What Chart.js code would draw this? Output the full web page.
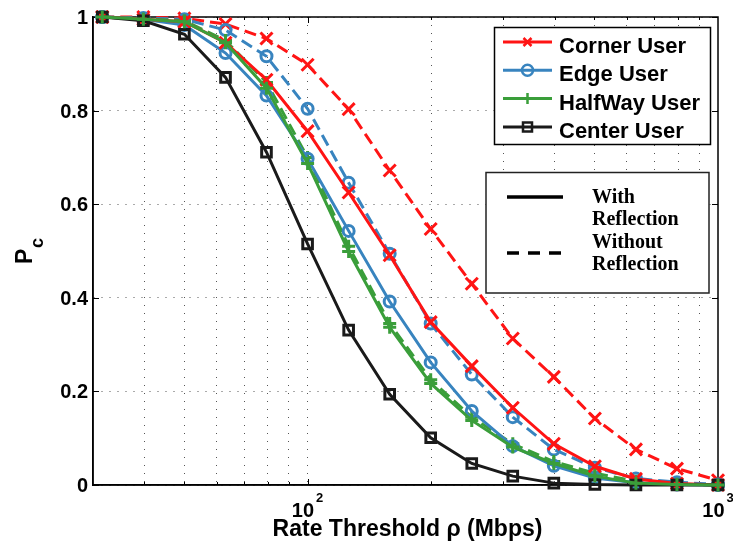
<!DOCTYPE html>
<html>
<head>
<meta charset="utf-8">
<title>Coverage probability vs rate threshold</title>
<script src="https://cdn.jsdelivr.net/npm/chart.js@4.4.0/dist/chart.umd.min.js"></script>
<style>
  body { margin: 0; background: #fff; }
  canvas { display: block; }
</style>
</head>
<body>
<canvas id="pc" width="733" height="550"></canvas>
<script>
// rate threshold samples in Mbps (10^1.5 ... 10^3, 0.1 decade steps)
const rates = [31.6, 39.8, 50.1, 63.1, 79.4, 100, 125.9, 158.5, 199.5, 251.2, 316.2, 398.1, 501.2, 631.0, 794.3, 1000];

// coverage probability P_c per user position
const cornerWith    = [1, 0.995, 0.99, 0.945, 0.866, 0.756, 0.625, 0.491, 0.348, 0.254, 0.165, 0.088, 0.04, 0.013, 0.003, 0];
const cornerWithout = [1, 1, 0.997, 0.985, 0.954, 0.898, 0.803, 0.672, 0.547, 0.43, 0.313, 0.231, 0.142, 0.076, 0.035, 0.01];
const edgeWith      = [1, 0.995, 0.983, 0.923, 0.832, 0.697, 0.543, 0.392, 0.262, 0.158, 0.083, 0.041, 0.015, 0.005, 0.001, 0];
const edgeWithout   = [1, 0.998, 0.995, 0.972, 0.916, 0.804, 0.646, 0.494, 0.345, 0.236, 0.145, 0.076, 0.037, 0.014, 0.006, 0.001];
const halfWith      = [1, 0.995, 0.99, 0.945, 0.848, 0.687, 0.499, 0.337, 0.217, 0.138, 0.081, 0.046, 0.019, 0.004, 0.001, 0];
const halfWithout   = [1, 0.996, 0.992, 0.95, 0.86, 0.7, 0.51, 0.345, 0.225, 0.145, 0.088, 0.05, 0.025, 0.008, 0.002, 0];
const centerWith    = [1, 0.992, 0.963, 0.871, 0.711, 0.515, 0.331, 0.194, 0.101, 0.046, 0.019, 0.004, 0.001, 0, 0, 0];

const yTicks = [0, 0.2, 0.4, 0.6, 0.8, 1];
const xGrid = [40, 50, 60, 70, 80, 90, 100, 200, 300, 400, 500, 600, 700, 800, 900];
const xMajor = [100, 1000];

const RED = '#ff1414', BLUE = '#3884bf', GREEN = '#3a9e3a', BLACK = '#1a1a1a';
const SANS = '"Liberation Sans", Arial, sans-serif';
const SERIF = '"Liberation Serif", "Times New Roman", serif';

const users = [
  { name: 'Corner User', color: RED, marker: 'crossRot', r: 4 },
  { name: 'Edge User', color: BLUE, marker: 'circle', r: 5.5 },
  { name: 'HalfWay User', color: GREEN, marker: 'cross', r: 5.5 },
  { name: 'Center User', color: BLACK, marker: 'rect', r: 4.5 }
];

function series(label, data, color, marker, radius, dashed) {
  return {
    label: label,
    data: rates.map((r, i) => ({ x: r, y: data[i] })),
    borderColor: color,
    borderWidth: 3,
    borderDash: dashed ? [12, 6] : [],
    pointStyle: marker,
    pointRadius: radius,
    pointBorderColor: color,
    pointBackgroundColor: 'rgba(0,0,0,0)',
    pointBorderWidth: 3,
    tension: 0,
    fill: false,
    clip: false
  };
}

// first dataset ends up on top
const datasets = [
  series('HalfWay User', halfWith, GREEN, 'cross', 6.5, false),
  series('Center User', centerWith, BLACK, 'rect', 6.8, false),
  series('Corner User', cornerWith, RED, 'crossRot', 8.5, false),
  series('Edge User', edgeWith, BLUE, 'circle', 5.5, false),
  series('HalfWay User (no refl.)', halfWithout, GREEN, 'cross', 6.5, true),
  series('Edge User (no refl.)', edgeWithout, BLUE, 'circle', 5.5, true),
  series('Corner User (no refl.)', cornerWithout, RED, 'crossRot', 8.5, true)
];

function drawMarker(ctx, style, x, y, r) {
  ctx.beginPath();
  if (style === 'circle') {
    ctx.arc(x, y, r, 0, 2 * Math.PI);
  } else if (style === 'rect') {
    ctx.rect(x - r, y - r, 2 * r, 2 * r);
  } else if (style === 'cross') {
    ctx.moveTo(x - r, y); ctx.lineTo(x + r, y);
    ctx.moveTo(x, y - r); ctx.lineTo(x, y + r);
  } else {
    ctx.moveTo(x - r, y - r); ctx.lineTo(x + r, y + r);
    ctx.moveTo(x - r, y + r); ctx.lineTo(x + r, y - r);
  }
  ctx.stroke();
}

// axes box, inward ticks, tick labels and titles
const axesDecor = {
  id: 'axesDecor',
  beforeDatasetsDraw(chart) {
    const { ctx, chartArea: a, scales: { x, y } } = chart;
    ctx.save();
    ctx.strokeStyle = '#000';
    ctx.lineWidth = 1.5;
    ctx.strokeRect(a.left, a.top, a.right - a.left, a.bottom - a.top);
    ctx.lineWidth = 1;
    ctx.beginPath();
    yTicks.forEach(v => {
      const py = Math.round(y.getPixelForValue(v)) + 0.5;
      ctx.moveTo(a.left, py); ctx.lineTo(a.left + 6, py);
      ctx.moveTo(a.right, py); ctx.lineTo(a.right - 6, py);
    });
    xGrid.forEach(v => {
      const px = Math.round(x.getPixelForValue(v)) + 0.5;
      const len = xMajor.includes(v) ? 6 : 3;
      ctx.moveTo(px, a.bottom); ctx.lineTo(px, a.bottom - len);
      ctx.moveTo(px, a.top); ctx.lineTo(px, a.top + len);
    });
    ctx.stroke();
    ctx.restore();
  },
  afterDraw(chart) {
    const { ctx, chartArea: a, scales: { x, y } } = chart;
    ctx.save();
    ctx.fillStyle = '#000';

    // y tick labels
    ctx.font = 'bold 20px ' + SANS;
    ctx.textAlign = 'right';
    ctx.textBaseline = 'alphabetic';
    yTicks.forEach(v => {
      ctx.fillText(String(v), a.left - 5, y.getPixelForValue(v) + 7);
    });

    // x tick labels as 10 with superscript exponent
    ctx.textAlign = 'left';
    xMajor.forEach(v => {
      const exp = String(Math.round(Math.log10(v)));
      ctx.font = 'bold 20px ' + SANS;
      const w1 = ctx.measureText('10').width;
      ctx.font = 'bold 13px ' + SANS;
      const w2 = ctx.measureText(exp).width;
      const x0 = x.getPixelForValue(v) - (w1 + 2 + w2) / 2;
      ctx.font = 'bold 20px ' + SANS;
      ctx.fillText('10', x0, a.bottom + 32);
      ctx.font = 'bold 13px ' + SANS;
      ctx.fillText(exp, x0 + w1 + 2, a.bottom + 17);
    });

    // x title
    ctx.font = 'bold 23px ' + SANS;
    ctx.textAlign = 'center';
    ctx.fillText('Rate Threshold \u03c1 (Mbps)', 407.5, 536);

    // y title P_c, rotated
    ctx.save();
    ctx.translate(32, 264);
    ctx.rotate(-Math.PI / 2);
    ctx.textAlign = 'left';
    ctx.font = 'bold 23px ' + SANS;
    ctx.fillText('P', 0, 0);
    ctx.font = 'bold 18px ' + SANS;
    ctx.fillText('c', 16, 11);
    ctx.restore();

    // legend: user positions
    ctx.fillStyle = '#fff';
    ctx.fillRect(494, 27, 216, 117);
    ctx.strokeStyle = '#000';
    ctx.lineWidth = 1.5;
    ctx.strokeRect(494.5, 27.5, 216, 117);
    users.forEach((u, i) => {
      const ly = 42 + i * 28.3;
      ctx.strokeStyle = u.color;
      ctx.lineWidth = 3;
      ctx.beginPath();
      ctx.moveTo(503, ly); ctx.lineTo(552, ly);
      ctx.stroke();
      ctx.lineWidth = 2.5;
      drawMarker(ctx, u.marker, 527.5, ly, u.r);
      ctx.fillStyle = '#000';
      ctx.font = 'bold 22px ' + SANS;
      ctx.textAlign = 'left';
      ctx.fillText(u.name, 559, ly + 11);
    });

    // legend: line styles
    ctx.fillStyle = '#fff';
    ctx.fillRect(486, 172, 223, 121);
    ctx.strokeStyle = '#222';
    ctx.lineWidth = 1.5;
    ctx.strokeRect(486, 172.5, 223, 120.5);
    ctx.strokeStyle = '#000';
    ctx.lineWidth = 3.5;
    ctx.beginPath();
    ctx.moveTo(507, 197); ctx.lineTo(563, 197);
    ctx.stroke();
    ctx.setLineDash([12, 9]);
    ctx.beginPath();
    ctx.moveTo(507, 253); ctx.lineTo(561, 253);
    ctx.stroke();
    ctx.setLineDash([]);
    ctx.fillStyle = '#000';
    ctx.font = 'bold 20px ' + SERIF;
    ctx.fillText('With', 592, 203);
    ctx.fillText('Reflection', 592, 225);
    ctx.fillText('Without', 592, 247.5);
    ctx.fillText('Reflection', 592, 269.5);
    ctx.restore();
  }
};

const gridStyle = { color: '#555', lineWidth: 1, drawTicks: false };
const borderStyle = { display: true, color: '#000', width: 1.5, dash: [1, 7] };

new Chart(document.getElementById('pc'), {
  type: 'line',
  data: { datasets: datasets },
  options: {
    responsive: false,
    animation: false,
    devicePixelRatio: 1,
    layout: { padding: { left: 93, top: 17, right: 15, bottom: 65 } },
    plugins: { legend: { display: false }, tooltip: { enabled: false } },
    scales: {
      x: {
        type: 'logarithmic',
        min: 30,
        max: 1000,
        afterBuildTicks: s => { s.ticks = xGrid.map(v => ({ value: v })); },
        afterFit: s => { s.height = 0; },
        ticks: { display: false },
        grid: gridStyle,
        border: borderStyle
      },
      y: {
        type: 'linear',
        min: 0,
        max: 1,
        afterBuildTicks: s => { s.ticks = yTicks.map(v => ({ value: v })); },
        afterFit: s => { s.width = 0; },
        ticks: { display: false },
        grid: gridStyle,
        border: borderStyle
      }
    }
  },
  plugins: [axesDecor]
});
</script>
</body>
</html>
